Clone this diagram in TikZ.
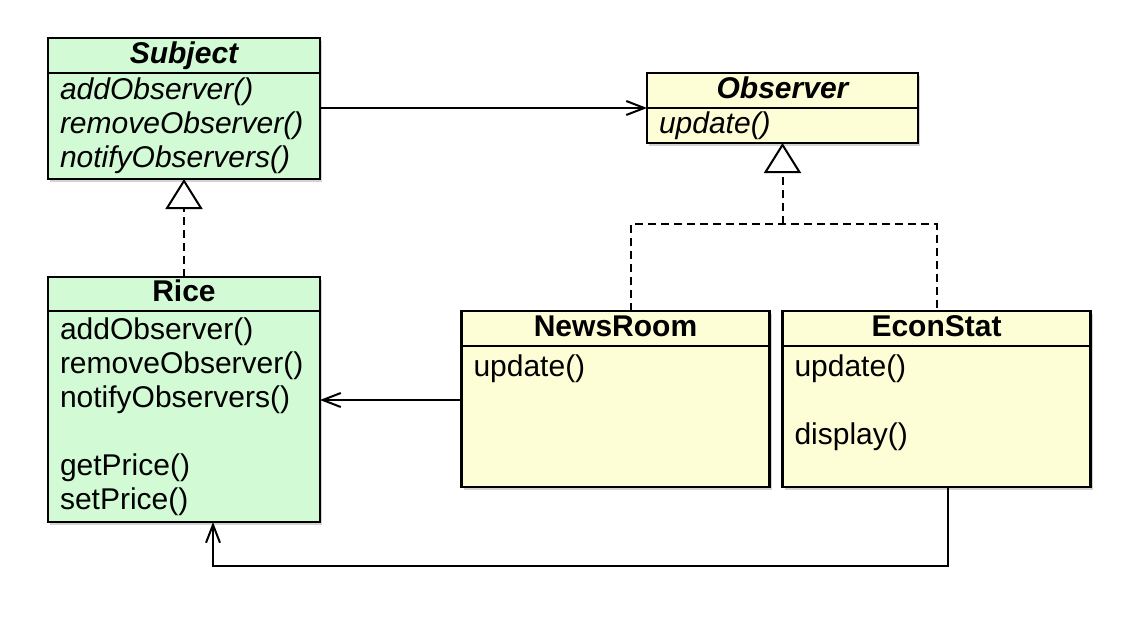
\documentclass[tikz,border=0pt]{standalone}
\usepackage{fontspec}
\setmainfont{Liberation Sans}
\usetikzlibrary{positioning,shadows,arrows.meta}

\definecolor{subjgreen}{RGB}{210,250,212}
\definecolor{obsyellow}{RGB}{253,253,214}
\newcommand{\umlfont}{\fontsize{15pt}{17pt}\selectfont}

\tikzset{
    umlshadow/.style={drop shadow={shadow xshift=1.2pt,shadow yshift=-1.5pt,opacity=0.35}},
    classhead/.style={draw, line width=1.2pt, outer sep=0pt, inner sep=0pt,
        minimum width=#1, minimum height=17.5pt, text height=11pt, text depth=3.5pt,
        font=\umlfont\bfseries, anchor=north, umlshadow},
    classbody/.style 2 args={draw, line width=1.2pt, outer sep=0pt, inner xsep=6pt,
        inner ysep=0pt, text width=#1, minimum height=#2, align=left,
        font=\umlfont, anchor=north, umlshadow},
    subj/.style={fill=subjgreen},
    obs/.style={fill=obsyellow},
    abstract/.style={font=\umlfont\bfseries\itshape},
    abstractops/.style={font=\umlfont\itshape},
    assoc/.style={line width=1pt, -{Straight Barb[length=9pt,width=7pt]}},
    dashline/.style={line width=1pt, dash pattern=on 4pt off 2.5pt},
    realize/.style={dashline, -{Triangle[open,fill=white,length=15pt,width=18.5pt]}}
}

\begin{document}
\begin{tikzpicture}[x=0.5pt,y=-0.5pt]
    \useasboundingbox (0,0) rectangle (1138,616);

    \node[classhead=136pt, subj, abstract] (subjhead) at (184,38) {Subject};
    \node[classbody={124pt}{53pt}, subj, abstractops, below=0pt of subjhead] (subjbody)
        {addObserver()\\removeObserver()\\notifyObservers()};

    \node[classhead=135.5pt, obs, abstract] (obshead) at (782.5,73) {Observer};
    \node[classbody={123.5pt}{17.5pt}, obs, abstractops, below=0pt of obshead] (obsbody)
        {update()};

    \node[classhead=136pt, subj, minimum height=17pt, below=49pt of subjbody] (ricehead) {Rice};
    \node[classbody={124pt}{105.5pt}, subj, below=0pt of ricehead] (ricebody)
        {addObserver()\\removeObserver()\\notifyObservers()\\~\\getPrice()\\setPrice()};

    \node[classhead=154pt, obs] (newshead) at (615.5,311) {NewsRoom};
    \node[classbody={142pt}{70.5pt}, obs, below=0pt of newshead] (newsbody)
        {update()\\~\\~\\~};

    \node[classhead=154pt, obs, right=6.5pt of newshead] (econhead) {EconStat};
    \node[classbody={142pt}{70.5pt}, obs, below=0pt of econhead] (econbody)
        {update()\\~\\display()\\~};

    \coordinate[below=40.5pt of obsbody.south] (junc);
    \coordinate[above=8.25pt of newsbody.west] (newsport);

    \draw[assoc] (obshead.south west -| subjbody.east) -- (obshead.south west);
    \draw[realize] (ricehead.north) -- (subjbody.south);
    \draw[dashline] ([xshift=7.75pt]newshead.north) |- (econhead.north |- junc) -- (econhead.north);
    \draw[realize] (junc) -- (obsbody.south);
    \draw[assoc] (newsport) -- (newsport -| ricebody.east);
    \draw[assoc] ([xshift=5.5pt]econbody.south) -- ++(0,79) -| ([xshift=14.5pt]ricebody.south);
\end{tikzpicture}
\end{document}
